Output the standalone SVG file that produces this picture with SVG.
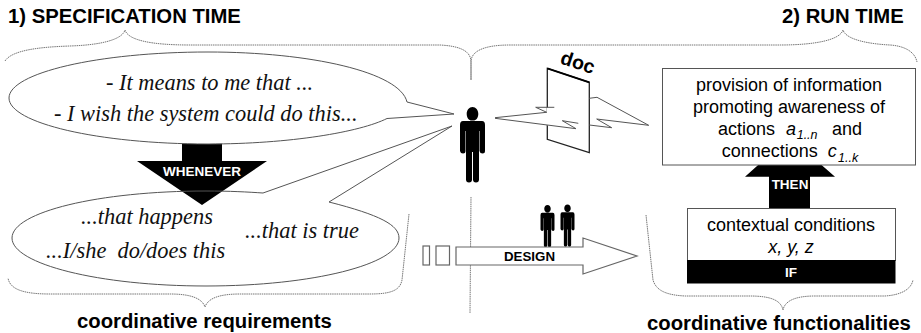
<svg xmlns="http://www.w3.org/2000/svg" width="921" height="333" viewBox="0 0 921 333">
<defs>
<path id="man" d="M-9.500 7H9.500Q12.500 7 12.500 11V37Q12.500 39.500 10 39.500T7 37V17H6.500V65.500Q6.500 68.500 3.500 68.500T0.500 65.500V38H-0.500V65.500Q-0.500 68.500 -3.500 68.500T-6.500 65.500V17H-7V37Q-7 39.500 -9.500 39.500T-12.500 37V11Q-12.500 7 -9.500 7ZM0 -7C3.300 -7 5.800 -4 5.800 0S3.300 7 0 6.500C-3.300 7 -5.800 4 -5.800 0S-3.300 -7 0 -7Z"/>
</defs>
<style>
text{font-family:"Liberation Sans",Arial,sans-serif;fill:#000}
.t{font-size:20.300px;font-weight:bold}
.b{font-size:18px;text-anchor:middle}
.w{font-weight:bold;fill:#fff;text-anchor:middle;font-size:13.500px}
.h{font-family:"Liberation Serif",serif;font-style:italic;font-size:22.400px;fill:#111;white-space:pre}
.br{fill:none;stroke:#777;stroke-width:1;stroke-dasharray:1.500 .7}
.o{fill:#fff;stroke:#666;stroke-width:1.200}
.fig{fill:#000}
.bolt{fill:none;stroke:#555;stroke-width:1}
.s{font-style:italic;font-size:12.500px}
</style>
<g id="titles">
<text class="t" x="8" y="23">1) SPECIFICATION TIME</text>
<text class="t" x="782" y="23">2) RUN TIME</text>
<text class="t" x="77" y="328">coordinative requirements</text>
<text class="t" x="647" y="330">coordinative functionalities</text>
</g>
<g id="braces">
<path class="br" d="M5 61C12 50 40 47 70 46C100 45 122 40 125 30C128 40 150 45 190 45L440 45C458 46 471 50 471 62V80"/>
<path class="br" d="M471 80V62C471 52 482 45 510 45L780 45C815 45 840 40 843 30C846 40 870 44 890 45C905 46 915 52 917 62"/>
<path class="br" d="M409 214L402 280C400 290 392 294 370 294H240C220 294 208 298 205 307C202 298 190 294 170 294H50C25 294 10 290 8 278"/>
<path class="br" d="M646 215L653 280C656 290 665 295 685 296H750C770 296 781 300 783 310C785 300 797 296 815 296H885C900 295 911 290 913 280"/>
<path class="br" d="M471 197L470 313"/>
</g>
<g id="whenever">
<polygon class="fig" points="182,140 222,140 222,161 267,161 202,205 137,161 182,161"/>
</g>
<g id="bubble1">
<path fill="#fff" stroke="#555" stroke-width="1" d="M407 102L454 114L387 118.500C360 132 290 144 208 144C98 144 9 123 9 98C9 73 98 52 208 52C310 52 400 72 407 102Z"/>
<text class="h" x="106" y="90">- It means to me that ...</text>
<text class="h" x="54" y="121">- I wish the system could do this...</text>
</g>
<g id="bubble2">
<path fill="none" stroke="#555" stroke-width="1" d="M263 193L452 126L329 202C380 215 399 225 399 238C399 264 313 286 206 286C99 286 12 264 12 238C12 212 99 191 206 191C230 191 248 192 263 193Z"/>
<text class="h" x="81" y="224">...that happens</text>
<text class="h" x="245" y="238">...that is true</text>
<text class="h" x="46" y="258">...I/she  do/does this</text>
</g>
<g id="whenever-label">
<text class="w" x="202" y="176">WHENEVER</text>
</g>
<g id="person">
<use href="#man" class="fig" x="472.500" y="114"/>
</g>
<g id="doc">
<polygon fill="none" stroke="#222" stroke-width="1.300" points="547.300,68.300 589.300,82.300 589.300,152.700 547.300,139.300"/>
<path fill="none" stroke="#000" stroke-width="1.800" d="M547.300 68.300L589.300 82.300"/>
<polygon fill="#fff" points="495,118 546.700,112.300 546.700,107.500 555,107.500 555,128 546.700,125"/>
<path class="bolt" d="M495 117.700L546.700 112.300L535.700 107.300L554.300 107.300"/>
<path class="bolt" d="M495 118.300L576 128.700L562.300 120.700L578.300 123.300"/>
<path class="bolt" d="M589.300 98.300L597 97.300L648.700 125.300L596.700 119L611.700 127.700L589.300 125"/>
<text font-size="19.500" font-weight="bold" transform="translate(559.300 63.300) rotate(18)">doc</text>
</g>
<g id="designers">
<use href="#man" class="fig" transform="translate(547.500 208.800) scale(.56)"/>
<use href="#man" class="fig" transform="translate(567.500 208.300) scale(.56)"/>
</g>
<g id="design">
<rect class="o" x="423" y="246" width="6.500" height="19"/>
<rect class="o" x="436" y="246" width="13.500" height="19"/>
<polygon class="o" points="456,247 583,247 583,238 637,256 583,274 583,265 456,265"/>
<text font-size="13.300" font-weight="bold" text-anchor="middle" x="529.500" y="261">DESIGN</text>
</g>
<g id="then">
<polygon class="fig" points="769,208 769,176.700 745,176.700 789.500,137 835,176.700 810,176.700 810,208"/>
<text class="w" x="790" y="188.500">THEN</text>
</g>
<g id="provision">
<rect x="662.500" y="68.500" width="253" height="96.500" fill="#fff" stroke="#555"/>
<text class="b" x="789" y="91">provision of information</text>
<text class="b" x="789" y="113">promoting awareness of</text>
<text font-size="18" y="135"><tspan x="718">actions</tspan><tspan x="786" font-style="italic">a</tspan><tspan class="s" x="796.700" dy="4">1..n</tspan><tspan x="832" dy="-4">and</tspan></text>
<text font-size="18" y="157"><tspan x="721.700">connections</tspan><tspan x="827.700" font-style="italic">c</tspan><tspan class="s" x="838" dy="5">1..k</tspan></text>
</g>
<g id="conditions">
<rect x="687.500" y="208.500" width="208" height="52" fill="#fff" stroke="#555"/>
<rect x="687" y="260" width="208.500" height="23.500" fill="#000"/>
<text class="b" x="791" y="231">contextual conditions</text>
<text class="b" x="791" y="253" font-style="italic">x, y, z</text>
<text class="w" x="791" y="277">IF</text>
</g>
</svg>
